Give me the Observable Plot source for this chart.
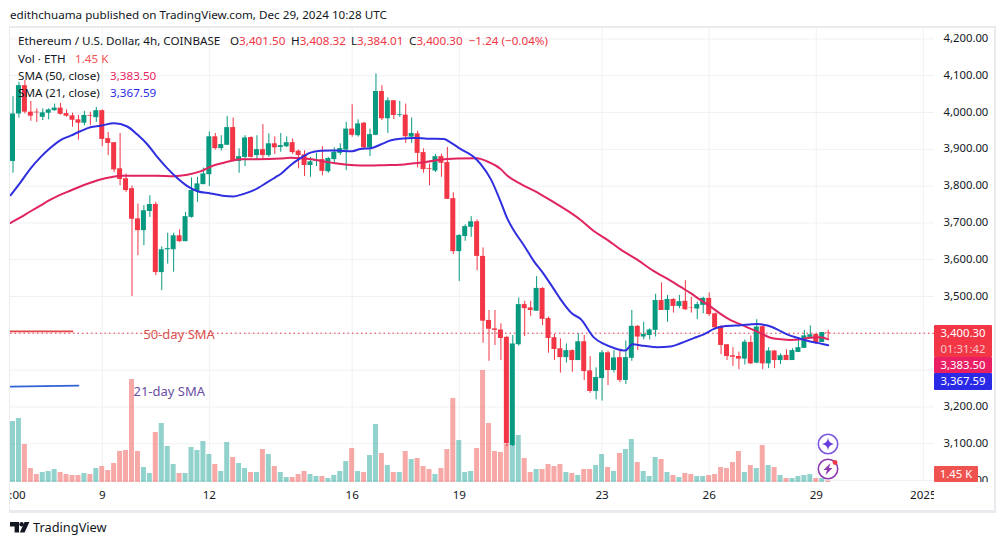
<!DOCTYPE html>
<html>
<head>
<meta charset="utf-8">
<script src="https://cdn.jsdelivr.net/npm/d3@7"></script>
<script src="https://cdn.jsdelivr.net/npm/@observablehq/plot@0.6"></script>
<style>
  html, body { margin: 0; padding: 0; background: #fff; width: 1005px; height: 545px; overflow: hidden; }
  body { position: relative; font-family: "Noto Sans", sans-serif; color: #131722; }
  #title { height: 27px; line-height: 29px; padding-left: 10px; font-size: 11.66px; white-space: nowrap; }
  #chart { position: relative; height: 483px; }
  #chart svg { display: block; }
  #footer { position: relative; height: 35px; }
  #footer span { position: absolute; left: 33px; top: 7px; font-size: 12.8px; line-height: 20px; }
  #footer svg { position: absolute; left: 10px; top: 12px; }
  #frame { position: absolute; left: 9px; top: 26px; width: 984px; height: 482px; border: 1px solid #e9ebef; border-width: 2px 2px 3px 1px; pointer-events: none; }
  .lg { position: absolute; font-size: 11.66px; line-height: 16px; white-space: nowrap; }
  .tag { position: absolute; left: 934px; width: 58px; text-align: center; color: #fff; font-size: 11.3px; line-height: 16px; border-radius: 1px; }
  #cover { position: absolute; left: 934px; top: 482px; width: 56px; height: 24px; background: #fff; }
  .icon { position: absolute; left: 816px; }
</style>
</head>
<body>
<div id="title">edithchuama published on TradingView.com, Dec 29, 2024 10:28 UTC</div>
<div id="chart"></div>
<div id="footer">
  <svg width="20" height="11" viewBox="0 0 20 11"><path fill="#131722" d="M0 0H9V10.5H4.6V4.4H0Z"/><circle cx="11.6" cy="2.2" r="2.2" fill="#131722"/><path fill="#131722" d="M14.6 0H19.4L14.6 10.5H9.8Z"/></svg>
  <span>TradingView</span>
</div>
<div id="frame"></div>
<div class="lg" style="left:18px;top:33px">Ethereum / U.S. Dollar, 4h, COINBASE</div>
<div class="lg" style="left:230px;top:33px">O<span style="color:#f23645">3,401.50</span></div>
<div class="lg" style="left:291px;top:33px">H<span style="color:#f23645">3,408.32</span></div>
<div class="lg" style="left:351px;top:33px">L<span style="color:#f23645">3,384.01</span></div>
<div class="lg" style="left:409px;top:33px">C<span style="color:#f23645">3,400.30&nbsp; −1.24 (−0.04%)</span></div>
<div class="lg" style="left:18px;top:51px">Vol · ETH</div>
<div class="lg" style="left:75px;top:51px;color:#ef5350">1.45 K</div>
<div class="lg" style="left:18px;top:68px">SMA (50, close)</div>
<div class="lg" style="left:110px;top:68px;color:#e91e63">3,383.50</div>
<div class="lg" style="left:18px;top:85px">SMA (21, close)</div>
<div class="lg" style="left:110px;top:85px;color:#2a2ae6">3,367.59</div>
<div id="cover"></div>
<div class="tag" style="top:325px;height:32px;background:#f23645">3,400.30<br><span style="opacity:.7">01:31:42</span></div>
<div class="tag" style="top:357px;height:16px;background:#e91e63">3,383.50</div>
<div class="tag" style="top:373px;height:17px;background:#2a2ae6">3,367.59</div>
<div class="tag" style="top:466px;height:16px;width:44px;background:#ef5350">1.45 K</div>
<svg class="icon" style="top:432px" width="24" height="24" viewBox="0 0 24 24"><circle cx="12" cy="12" r="9.7" fill="#fff" stroke="#7b57e0" stroke-width="1.6"/><path fill="#6a3fe0" d="M12 5.5C12.6 9.6 14.4 11.4 18.5 12C14.4 12.6 12.6 14.4 12 18.5C11.4 14.4 9.6 12.6 5.5 12C9.6 11.4 11.4 9.6 12 5.5Z"/></svg>
<svg class="icon" style="top:457px" width="24" height="24" viewBox="0 0 24 24"><circle cx="12" cy="12" r="9.7" fill="#fff" stroke="#8e3bb0" stroke-width="1.6"/><path fill="#8e3bb0" d="M14.5 6L7.5 13H11L9.5 18L16.5 11H13Z"/><circle cx="19" cy="5.5" r="2.4" fill="#f23645"/></svg>
<script>
const opens = [3867,3996,4073,4001,4001,3987,3998,4005,4012,3997,3991,3980,3971,3992,3986,4005,3929,3918,3847,3820,3793,3711,3679,3731,3750,3565,3627,3627,3665,3649,3715,3786,3804,3831,3934,3902,3911,3959,3867,3878,3932,3883,3899,3883,3915,3905,3907,3918,3895,3885,3856,3867,3872,3839,3872,3889,3898,3955,3937,3971,3904,3938,4057,3983,4032,3992,3993,3933,3942,3891,3847,3841,3880,3864,3766,3622,3663,3688,3703,3609,3435,3412,3409,3389,3095,3369,3478,3469,3460,3522,3440,3388,3358,3334,3353,3326,3377,3298,3242,3277,3347,3299,3334,3272,3332,3419,3390,3394,3408,3489,3462,3492,3473,3487,3470,3466,3476,3495,3453,3418,3369,3339,3337,3330,3375,3319,3418,3317,3352,3326,3340,3326,3348,3359,3389,3397,3375,3401.5];
const closes = [3996,4073,4001,3990,3999,3999,4007,4012,3995,3990,3979,3971,3992,3990,4005,3927,3916,3844,3818,3788,3710,3679,3733,3750,3565,3627,3630,3665,3649,3717,3788,3806,3833,3934,3902,3913,3959,3867,3880,3931,3878,3899,3883,3915,3904,3910,3918,3891,3883,3856,3866,3871,3840,3875,3892,3902,3955,3938,3969,3904,3940,4057,3983,4032,3992,3994,3934,3943,3889,3845,3845,3880,3862,3764,3622,3666,3690,3703,3609,3433,3411,3408,3386,3100,3371,3478,3467,3462,3522,3438,3386,3356,3334,3353,3326,3377,3296,3242,3280,3347,3299,3333,3272,3334,3419,3390,3397,3409,3489,3462,3492,3473,3486,3464,3469,3478,3495,3451,3415,3367,3337,3335,3330,3376,3317,3417,3317,3352,3326,3339,3326,3353,3361,3393,3396,3375,3402,3400.3];
const highs = [4043,4082,4087,4030,4010,4010,4010,4023,4025,4007,3998,3992,4003,4001,4014,4007,3946,3918,3943,3833,3800,3751,3747,3774,3756,3635,3672,3672,3681,3729,3822,3824,3849,3947,3943,3937,3989,3985,3901,3937,3934,3937,3967,3942,3934,3943,3934,3928,3898,3896,3878,3889,3907,3878,3904,3915,3973,4021,3980,3973,3955,4105,4073,4040,4032,4030,4023,3985,3949,3901,3860,3886,3887,3905,3782,3668,3695,3717,3708,3632,3462,3462,3426,3392,3394,3496,3487,3487,3554,3524,3444,3397,3385,3371,3355,3399,3394,3337,3306,3353,3351,3353,3351,3379,3462,3421,3430,3412,3506,3537,3503,3494,3503,3543,3498,3485,3498,3510,3455,3421,3369,3361,3349,3382,3393,3437,3420,3361,3353,3344,3355,3358,3385,3408,3420,3398,3402,3408.32];
const lows = [3835,3985,3996,3976,3973,3978,3980,4003,3993,3987,3960,3925,3964,3964,3973,3907,3883,3837,3801,3783,3500,3611,3638,3715,3557,3516,3588,3566,3647,3649,3713,3756,3804,3799,3898,3895,3911,3865,3835,3853,3876,3871,3874,3878,3886,3892,3904,3886,3847,3826,3824,3853,3828,3835,3860,3883,3842,3933,3933,3901,3880,3937,3978,3943,3981,3987,3916,3916,3849,3835,3801,3837,3824,3764,3614,3541,3650,3661,3570,3373,3324,3367,3326,3092,3092,3365,3391,3446,3460,3421,3346,3326,3292,3319,3294,3326,3272,3237,3219,3216,3258,3292,3266,3261,3324,3353,3382,3382,3390,3462,3430,3455,3467,3462,3455,3437,3453,3446,3412,3342,3326,3310,3301,3314,3315,3317,3301,3304,3304,3315,3326,3326,3348,3359,3388,3370,3375,3384.01];
const volumes = [61,64,38,14,8,10,11,13,10,8,7,7,9,8,14,16,12,19,31,32,103,31,15,9,50,59,36,18,9,9,35,32,41,28,18,11,40,25,19,14,10,10,33,28,16,10,5,5,8,11,8,6,6,4,7,11,21,34,11,10,27,58,29,17,10,10,31,23,24,16,13,8,14,33,84,42,10,11,34,112,59,31,30,38,38,47,24,10,13,13,18,16,18,10,9,7,13,13,17,28,15,11,29,33,43,20,11,6,25,23,10,7,5,9,8,6,6,7,8,15,14,20,31,10,17,14,37,17,15,7,4,4,6,7,8,4,4,1.45];

const sma21At = [-0.4,1.26,2.9,4.6,6.3,8,9.7,11.3,13,14.7,17,19.2,20.9,22.6,24.2,25.9,27.6,29.3,31,33.2,35.2,37.1,38.8,40.5,42.7,44.1,45,46.6,48.3,50,51.7,53.4,55,57,58.4,60.1,61.8,63.4,65.1,67.4,69.6,72.4,73.5,75.2,77.4,78.6,80.3,81.9,83.1,84.2,85.9,87.5,89.2,90.9,92,94,95.4,97.6,99.3,101,102.9,104.1,106,108.3,110.5,112.2,114.4,116.1,117.8,119.5,122.3,125,126.8,128.5,130.1,131.8,133.5,135.2,137];
const sma21 = [3775,3810,3847,3878,3904,3925,3937,3949,3960,3964,3971,3962,3940,3913,3880,3849,3822,3800,3786,3780,3774,3772,3779,3789,3810,3824,3833,3856,3876,3891,3896,3897,3896,3895,3901,3903,3913,3924,3929,3931,3929,3928,3919,3901,3880,3860,3819,3760,3711,3679,3638,3597,3561,3520,3493,3453,3439,3389,3371,3360,3353,3370,3366,3362,3364,3373,3387,3397,3412,3419,3422,3425,3421,3410,3397,3388,3380,3374,3367.59];
const sma50At = [-0.4,1.26,2.9,4.6,6.3,8,9.7,11.3,13,14.7,16.4,18.6,21.4,24.2,27,29.3,31.5,33.7,36,38.2,41,45,46.6,48.3,50.5,52.2,53.9,56.2,58.4,60.1,62.3,65.1,67.4,69.6,71.9,74.7,78,79.7,81.9,83.1,85.3,88.1,90.3,93.1,95.4,97.6,99.9,102.1,104.9,107.7,110.5,112.2,113.9,115.5,117.2,118.9,120.6,122.3,124,125.7,127.3,129,130.7,132.4,134,135.7,137];
const sma50 = [3700,3715,3731,3747,3763,3777,3788,3799,3809,3818,3824,3828,3828,3828,3827,3831,3840,3856,3866,3873,3873,3875,3877,3876,3872,3867,3863,3858,3856,3856,3857,3858,3862,3866,3872,3875,3876,3867,3847,3828,3806,3783,3762,3734,3708,3678,3654,3628,3600,3569,3543,3526,3509,3491,3473,3453,3436,3424,3412,3400,3388,3384,3382,3384,3388,3389,3383.5];

const priceTicks = [3000,3100,3200,3500,3600,3700,3800,3900,4000,4100,4200];
const priceGrid = [3000,3100,3200,3300,3400,3500,3600,3700,3800,3900,4000,4100,4200];
const dayTicks = [15,33,57,75,99,117,135,153];
const dayLabels = ["9","12","16","19","23","26","29","2025"];
const firstLabelAt = 0.76, firstLabel = ":00";
const lastPrice = 3400.30;

const candles = opens.map((o, i) => ({i, open: o, close: closes[i], high: highs[i], low: lows[i], vol: volumes[i], up: closes[i] >= o}));
const up = candles.filter(d => d.up), down = candles.filter(d => !d.up);
const sma21Pts = sma21At.map((x, k) => ({x, y: sma21[k]}));
const sma50Pts = sma50At.map((x, k) => ({x, y: sma50[k]}));

const UP = "#089981", DOWN = "#f23645", VOL_UP = "#26a69a", VOL_DOWN = "#ef5350", GRID = "#f0f1f4";
const volBase = 2994.6, volK = 2.717;   // volume pane shares the price scale at a fixed factor
const bodyHalf = 0.42;
const volBars = (rows, color) => Plot.rect(rows, {x1: d => d.i - bodyHalf, x2: d => d.i + bodyHalf, y1: volBase, y2: d => volBase + d.vol * volK, fill: color, fillOpacity: 0.5});
const bodies = (rows, color) => Plot.rect(rows, {x1: d => d.i - bodyHalf, x2: d => d.i + bodyHalf, y1: "open", y2: "close", fill: color});
const wicks = (rows, color) => Plot.ruleX(rows, {x: "i", y1: "low", y2: "high", stroke: color, strokeWidth: 1});

const chart = Plot.plot({
  width: 1005, height: 483,
  marginLeft: 10, marginRight: 71, marginTop: 0, marginBottom: 28,
  x: {domain: [-0.42, 154.87], axis: null},
  y: {domain: [volBase, 4231], axis: null},
  style: {fontFamily: '"Noto Sans", sans-serif', fontSize: "11.3px", color: "#131722", background: "transparent"},
  marks: [
    Plot.ruleY(priceGrid, {stroke: GRID}),
    Plot.ruleX(dayTicks, {y1: volBase, y2: 4231, stroke: GRID}),
    Plot.axisX([firstLabelAt, ...dayTicks], {anchor: "bottom", tickSize: 0, tickPadding: 8, label: null, fontSize: 11.6,
      tickFormat: v => v === firstLabelAt ? firstLabel : dayLabels[dayTicks.indexOf(v)]}),
    Plot.axisY(priceTicks, {anchor: "right", tickSize: 0, tickPadding: 9, label: null, fontSize: 11.3, dy: -0.5, tickFormat: d3.format(",.2f")}),
    volBars(up, VOL_UP), volBars(down, VOL_DOWN),
    Plot.ruleY([lastPrice], {stroke: DOWN, strokeDasharray: "1.5,3", strokeWidth: 1}),
    wicks(up, UP), wicks(down, DOWN),
    bodies(up, UP), bodies(down, DOWN),
    Plot.line(sma50Pts, {x: "x", y: "y", stroke: "#e0245e", strokeWidth: 2, curve: "monotone-x"}),
    Plot.line(sma21Pts, {x: "x", y: "y", stroke: "#2f2fe0", strokeWidth: 2, curve: "monotone-x"}),
    Plot.ruleY([3405], {x1: -0.42, x2: 10.2, stroke: "#e2454a", strokeWidth: 1.8}),
    Plot.line([[-0.42, 3255], [11, 3258]], {stroke: "#2f62d4", strokeWidth: 1.8}),
    Plot.text(["50-day SMA"], {x: 21.9, y: 3397, text: d => d, textAnchor: "start", fill: "#d9534f", fontSize: 13}),
    Plot.text(["21-day SMA"], {x: 20.25, y: 3242, text: d => d, textAnchor: "start", fill: "#6a4fa3", fontSize: 13})
  ]
});
document.getElementById("chart").appendChild(chart);
</script>
</body>
</html>
